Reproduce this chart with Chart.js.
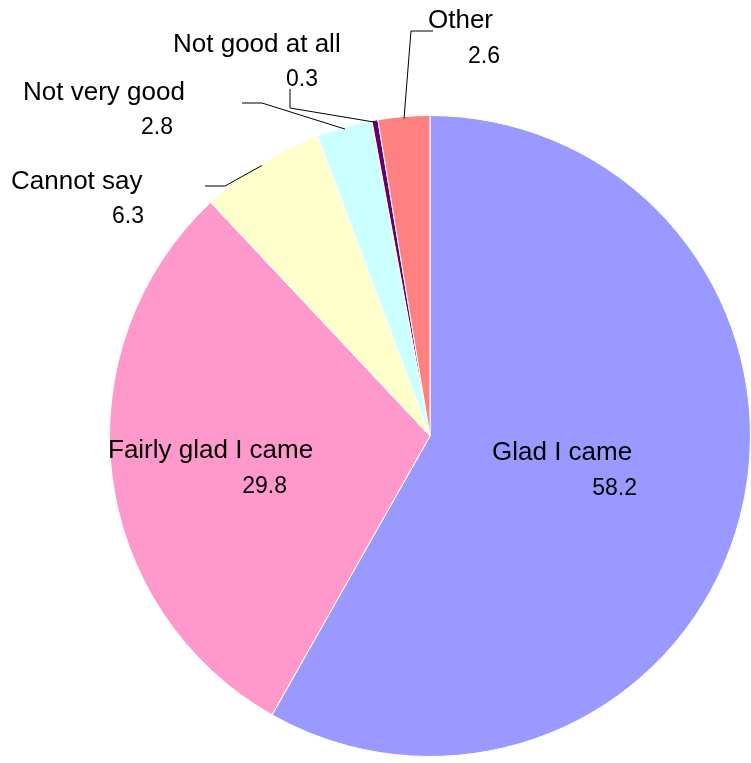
<!DOCTYPE html>
<html>
<head>
<meta charset="utf-8">
<script src="https://cdn.jsdelivr.net/npm/chart.js@4.4.0/dist/chart.umd.min.js"></script>
<style>
  body { margin: 0; background: #fff; }
  canvas { display: block; }
</style>
</head>
<body>
<canvas id="grafico" width="751" height="763"></canvas>
<script>
// Data
const categorias = ['Glad I came', 'Fairly glad I came', 'Cannot say', 'Not very good', 'Not good at all', 'Other'];
const valores = [58.2, 29.8, 6.3, 2.8, 0.3, 2.6];
const cores = ['#9999FF', '#FF99CC', '#FFFFCC', '#CCFFFF', '#660066', '#FF8080'];

// Label layout, offsets from the pie centre (name left/baseline, value right/baseline)
const rotulos = [
  { nx: 62, ny: 24, vx: 207, vy: 59, linha: null },
  { nx: -322, ny: 22, vx: -143, vy: 57, linha: null },
  { nx: -419, ny: -247, vx: -286, vy: -213, linha: [[-205, -250], [-225, -250]] },
  { nx: -407, ny: -336, vx: -257, vy: -302, linha: [[-168, -333], [-188, -333]] },
  { nx: -257, ny: -384, vx: -112, vy: -350, linha: [[-140, -328], [-140, -347]] },
  { nx: -2, ny: -408, vx: 70, vy: -373, linha: [[-19, -405], [3, -405]] }
];

// Labels + leader lines
const pluginRotulos = {
  id: 'rotulos',
  afterDatasetsDraw(chart) {
    const ctx = chart.ctx;
    const arcos = chart.getDatasetMeta(0).data;
    ctx.save();
    arcos.forEach((arco, i) => {
      const r = rotulos[i];
      const cx = arco.x, cy = arco.y;
      if (r.linha) {
        const meio = (arco.startAngle + arco.endAngle) / 2;
        const raio = arco.outerRadius - 2;
        ctx.beginPath();
        ctx.moveTo(cx + Math.cos(meio) * raio, cy + Math.sin(meio) * raio);
        r.linha.forEach(p => ctx.lineTo(cx + p[0], cy + p[1]));
        ctx.strokeStyle = '#000';
        ctx.lineWidth = 1;
        ctx.stroke();
      }
      ctx.fillStyle = '#000';
      ctx.textBaseline = 'alphabetic';
      ctx.font = '26px "Liberation Sans", Arial, sans-serif';
      ctx.textAlign = 'left';
      ctx.fillText(categorias[i], cx + r.nx, cy + r.ny);
      ctx.font = '23px "Liberation Sans", Arial, sans-serif';
      ctx.textAlign = 'right';
      ctx.fillText(valores[i].toFixed(1), cx + r.vx, cy + r.vy);
    });
    ctx.restore();
  }
};

new Chart(document.getElementById('grafico').getContext('2d'), {
  type: 'pie',
  data: {
    labels: categorias,
    datasets: [{
      data: valores,
      backgroundColor: cores,
      borderColor: '#fff',
      borderWidth: 1
    }]
  },
  options: {
    responsive: false,
    animation: false,
    layout: { padding: { left: 109, right: 0, top: 115, bottom: 6 } },
    plugins: { legend: { display: false }, tooltip: { enabled: false } }
  },
  plugins: [pluginRotulos]
});
</script>
</body>
</html>
